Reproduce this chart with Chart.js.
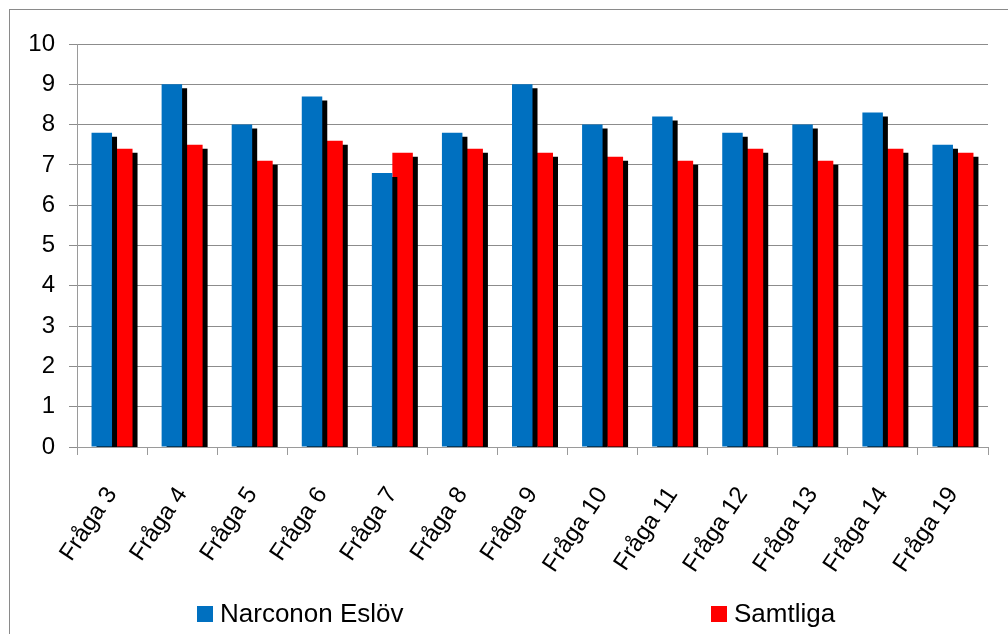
<!DOCTYPE html>
<html lang="sv">
<head>
    <meta charset="UTF-8">
    <title>Fråga 3 - 19</title>
    <script src="https://cdn.jsdelivr.net/npm/chart.js"></script>
    <style>
        html, body { margin: 0; padding: 0; background: #fff; overflow: hidden; }
        .wrap { position: relative; width: 1008px; height: 634px; }
        .frame {
            position: absolute; left: 9px; top: 9px;
            width: 1100px; height: 700px;
            border: 1px solid #8a8a8a; box-sizing: border-box;
        }
        canvas { position: absolute; left: 0; top: 0; }
        .legend {
            position: absolute; top: 597px; left: 0;
            font-family: "Liberation Sans", Arial, sans-serif; font-size: 26px; color: #000;
        }
        .legend span.item { position: absolute; white-space: nowrap; line-height: 32px; }
        .legend i { display: inline-block; width: 16px; height: 16px; margin-right: 7px; vertical-align: 0px; }
    </style>
</head>
<body>
<div class="wrap">
    <div class="frame"></div>
    <canvas id="chart" width="1008" height="634"></canvas>
    <div class="legend" id="legend"></div>
</div>

<script>
    // données
    const fragor = ['Fråga 3', 'Fråga 4', 'Fråga 5', 'Fråga 6', 'Fråga 7', 'Fråga 8', 'Fråga 9',
                    'Fråga 10', 'Fråga 11', 'Fråga 12', 'Fråga 13', 'Fråga 14', 'Fråga 19'];
    const narconon = [7.8, 9.0, 8.0, 8.7, 6.8, 7.8, 9.0, 8.0, 8.2, 7.8, 8.0, 8.3, 7.5];
    const samtliga = [7.4, 7.5, 7.1, 7.6, 7.3, 7.4, 7.3, 7.2, 7.1, 7.4, 7.1, 7.4, 7.3];
    const seriesNames = ['Narconon Eslöv', 'Samtliga'];
    const seriesColors = ['#0070C0', '#FF0000'];

    // ombre noire derrière chaque barre
    const barShadow = {
        id: 'barShadow',
        beforeDatasetDraw(chart) {
            const ctx = chart.ctx;
            ctx.save();
            ctx.shadowColor = '#000';
            ctx.shadowOffsetX = 5;
            ctx.shadowOffsetY = 4;
            ctx.shadowBlur = 0;
        },
        afterDatasetDraw(chart) {
            chart.ctx.restore();
        }
    };

    const yFont = { family: '"Liberation Sans", Arial, sans-serif', size: 24 };
    const xFont = { family: '"Liberation Sans", Arial, sans-serif', size: 24 };

    new Chart(document.getElementById('chart').getContext('2d'), {
        type: 'bar',
        data: {
            labels: fragor,
            datasets: [
                { label: seriesNames[0], data: narconon, backgroundColor: seriesColors[0] },
                { label: seriesNames[1], data: samtliga, backgroundColor: seriesColors[1] }
            ]
        },
        options: {
            responsive: false,
            animation: false,
            layout: { padding: { top: 44, right: 20, left: 0, bottom: 0 } },
            datasets: { bar: { barPercentage: 1, categoryPercentage: 0.585 } },
            plugins: { legend: { display: false }, tooltip: { enabled: false } },
            scales: {
                x: {
                    grid: { drawOnChartArea: false, drawTicks: true, tickLength: 8, color: '#9a9a9a' },
                    border: { color: '#9a9a9a' },
                    ticks: { font: xFont, color: '#000', minRotation: 56, maxRotation: 56, padding: 27 },
                    afterFit(scale) { scale.height = 187; }
                },
                y: {
                    min: 0, max: 10,
                    grid: { color: '#8c8c8c', tickLength: 8 },
                    border: { color: '#9a9a9a' },
                    ticks: { stepSize: 1, font: yFont, color: '#000', padding: 14 },
                    afterFit(scale) { scale.width = 77; }
                }
            }
        },
        plugins: [barShadow]
    });

    // légende
    const legendPos = [197, 711];
    const legend = document.getElementById('legend');
    seriesNames.forEach((name, i) => {
        const s = document.createElement('span');
        s.className = 'item';
        s.style.left = legendPos[i] + 'px';
        s.innerHTML = '<i style="background:' + seriesColors[i] + '"></i>' + name;
        legend.appendChild(s);
    });
</script>
</body>
</html>
